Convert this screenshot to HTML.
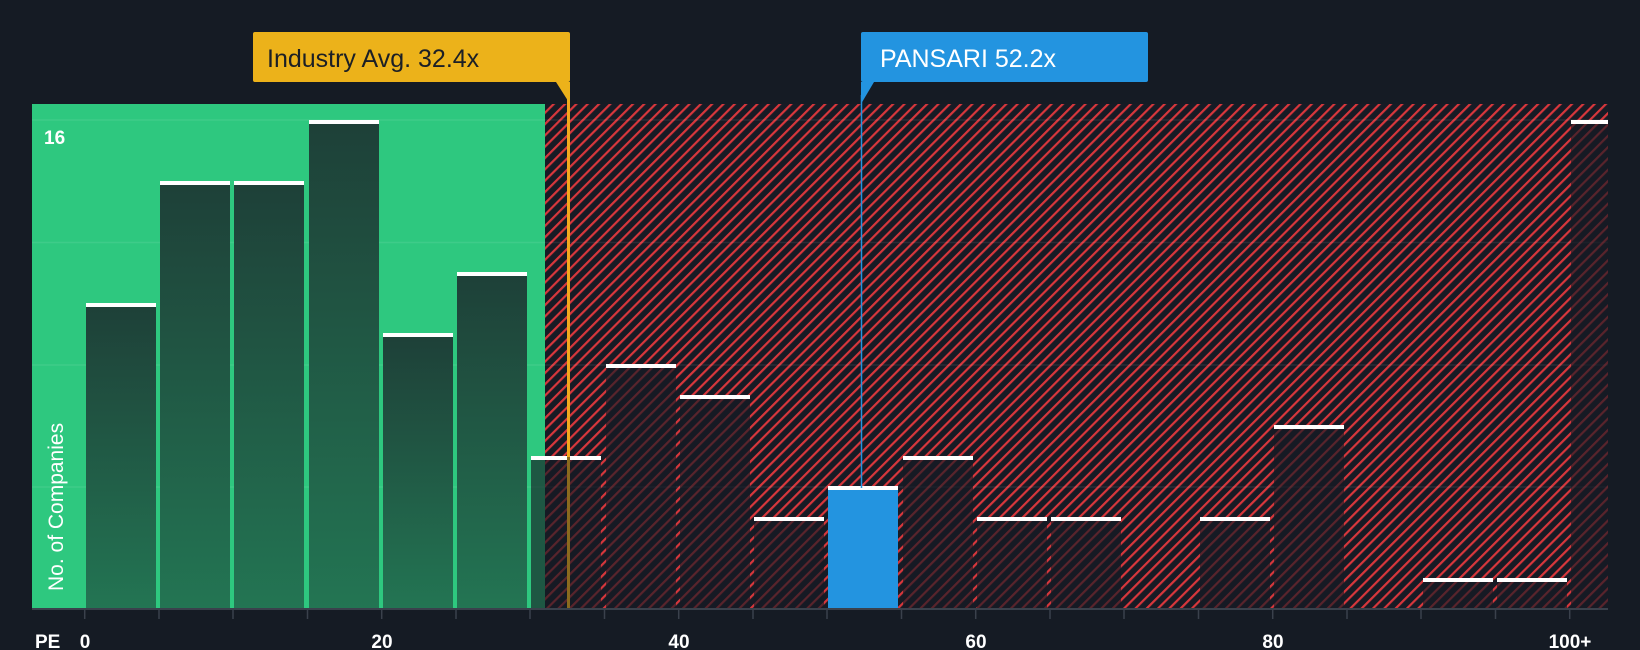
<!DOCTYPE html>
<html><head><meta charset="utf-8"><style>
html,body{margin:0;padding:0;background:#151b24;}
svg{display:block;font-family:"Liberation Sans",sans-serif;}
</style></head><body>
<svg width="1640" height="650" viewBox="0 0 1640 650" xmlns="http://www.w3.org/2000/svg">
<defs>
<pattern id="hatch" patternUnits="userSpaceOnUse" width="8" height="8" patternTransform="rotate(45)">
<rect width="8" height="8" fill="#171b25"/>
<rect x="0" y="0" width="2.2" height="8" fill="#d8373c"/>
</pattern>
<linearGradient id="gbar" x1="0" y1="0" x2="0" y2="1">
<stop offset="0" stop-color="#1e4038"/>
<stop offset="1" stop-color="#237553"/>
</linearGradient>
</defs>
<rect width="1640" height="650" fill="#151b24"/>
<rect x="32" y="104" width="513" height="505" fill="#2ec87f"/>
<rect x="545" y="104" width="1063" height="505" fill="url(#hatch)"/>
<g stroke="#ffffff" stroke-opacity="0.08" stroke-width="1.5">
<line x1="32" y1="120" x2="1608" y2="120"/>
<line x1="32" y1="242.5" x2="1608" y2="242.5"/>
<line x1="32" y1="365" x2="1608" y2="365"/>
<line x1="32" y1="487" x2="1608" y2="487"/>
</g>
<g fill="url(#gbar)">
<rect x="86" y="305" width="70" height="304"/>
<rect x="160" y="182" width="70" height="427"/>
<rect x="234" y="182" width="70" height="427"/>
<rect x="309" y="121" width="70" height="488"/>
<rect x="383" y="335" width="70" height="274"/>
<rect x="457" y="274" width="70" height="335"/>
</g>
<g fill="#151a23" fill-opacity="0.65">
<rect x="531" y="457" width="70" height="152"/>
<rect x="606" y="366" width="70" height="243"/>
<rect x="680" y="396" width="70" height="213"/>
<rect x="754" y="518" width="70" height="91"/>
<rect x="903" y="457" width="70" height="152"/>
<rect x="977" y="518" width="70" height="91"/>
<rect x="1051" y="518" width="70" height="91"/>
<rect x="1200" y="518" width="70" height="91"/>
<rect x="1274" y="427" width="70" height="182"/>
<rect x="1423" y="579" width="70" height="30"/>
<rect x="1497" y="579" width="70" height="30"/>
<rect x="1571" y="121" width="37" height="488"/>
</g>
<rect x="828" y="488" width="70" height="121" fill="#2394e0"/>
<g fill="#ffffff">
<rect x="86" y="303" width="70" height="4"/>
<rect x="160" y="181" width="70" height="4"/>
<rect x="234" y="181" width="70" height="4"/>
<rect x="309" y="120" width="70" height="4"/>
<rect x="383" y="333" width="70" height="4"/>
<rect x="457" y="272" width="70" height="4"/>
<rect x="531" y="456" width="70" height="4"/>
<rect x="606" y="364" width="70" height="4"/>
<rect x="680" y="395" width="70" height="4"/>
<rect x="754" y="517" width="70" height="4"/>
<rect x="828" y="486" width="70" height="4"/>
<rect x="903" y="456" width="70" height="4"/>
<rect x="977" y="517" width="70" height="4"/>
<rect x="1051" y="517" width="70" height="4"/>
<rect x="1200" y="517" width="70" height="4"/>
<rect x="1274" y="425" width="70" height="4"/>
<rect x="1423" y="578" width="70" height="4"/>
<rect x="1497" y="578" width="70" height="4"/>
<rect x="1571" y="120" width="37" height="4"/>
</g>
<line x1="568.5" y1="95" x2="568.5" y2="457" stroke="#f2a81d" stroke-width="3"/>
<line x1="568.5" y1="457" x2="568.5" y2="609" stroke="#8a6a1e" stroke-width="3"/>
<line x1="861.5" y1="95" x2="861.5" y2="488" stroke="#2394e0" stroke-width="1.5"/>
<line x1="32" y1="609" x2="1608" y2="609" stroke="#3a414c" stroke-width="2"/>
<g stroke="#3a414c" stroke-width="1.5">
<line x1="84.7" y1="609" x2="84.7" y2="619"/><line x1="159" y1="609" x2="159" y2="619"/><line x1="233" y1="609" x2="233" y2="619"/><line x1="307.5" y1="609" x2="307.5" y2="619"/><line x1="381.7" y1="609" x2="381.7" y2="619"/><line x1="456" y1="609" x2="456" y2="619"/><line x1="530" y1="609" x2="530" y2="619"/><line x1="604.5" y1="609" x2="604.5" y2="619"/><line x1="678.7" y1="609" x2="678.7" y2="619"/><line x1="753" y1="609" x2="753" y2="619"/><line x1="827" y1="609" x2="827" y2="619"/><line x1="901.5" y1="609" x2="901.5" y2="619"/><line x1="975.7" y1="609" x2="975.7" y2="619"/><line x1="1050" y1="609" x2="1050" y2="619"/><line x1="1124" y1="609" x2="1124" y2="619"/><line x1="1198.5" y1="609" x2="1198.5" y2="619"/><line x1="1272.7" y1="609" x2="1272.7" y2="619"/><line x1="1347" y1="609" x2="1347" y2="619"/><line x1="1421" y1="609" x2="1421" y2="619"/><line x1="1495.5" y1="609" x2="1495.5" y2="619"/><line x1="1569.7" y1="609" x2="1569.7" y2="619"/>
</g>
<g fill="#ffffff" font-size="19" font-weight="bold">
<text x="35" y="648">PE</text>
<text x="85" y="648" text-anchor="middle">0</text>
<text x="382" y="648" text-anchor="middle">20</text>
<text x="679" y="648" text-anchor="middle">40</text>
<text x="976" y="648" text-anchor="middle">60</text>
<text x="1273" y="648" text-anchor="middle">80</text>
<text x="1570" y="648" text-anchor="middle">100+</text>
<text x="44" y="144">16</text>
</g>
<text transform="translate(63,591) rotate(-90)" fill="#ffffff" font-size="21">No. of Companies</text>
<rect x="253" y="32" width="317" height="50" rx="2" fill="#ecb21a"/>
<polygon points="556,82 570,82 570,104" fill="#ecb21a"/>
<text x="267" y="67" font-size="25" fill="#1b1f26">Industry Avg. 32.4x</text>
<rect x="861" y="32" width="287" height="50" rx="2" fill="#2394e0"/>
<polygon points="861,82 874,82 861,104" fill="#2394e0"/>
<text x="880" y="67" font-size="25" fill="#ffffff">PANSARI 52.2x</text>
</svg>
</body></html>
